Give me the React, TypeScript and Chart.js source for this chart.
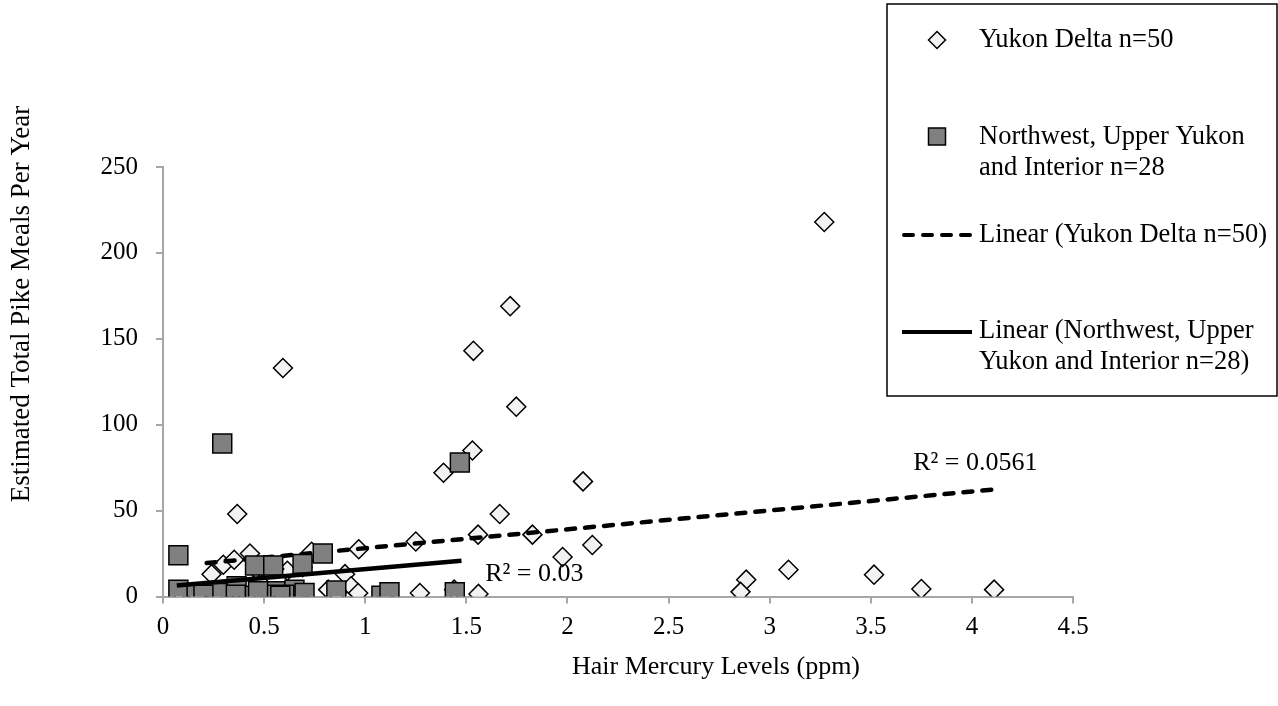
import React, { useEffect, useRef } from 'react';
import { Chart, registerables } from 'chart.js';

Chart.register(...registerables);

// ---- Data ----
const yukonX = [
  3.27, 1.717, 1.535, 0.593, 1.747, 1.53, 1.387, 2.077, 1.665, 0.367,
  1.25, 1.558, 1.827, 2.123, 1.976, 0.968, 1.27, 1.44, 1.56, 2.884,
  2.856, 3.093, 3.516, 3.75, 4.11, 0.24, 0.298, 0.352, 0.43, 0.735,
  0.615, 0.9, 0.817, 0.93, 0.965, 0.47, 0.36, 0.46, 0.55, 0.69,
  0.56, 0.65, 0.45, 0.52, 0.86, 0.17, 0.67, 0.08, 1.1, 0.25,
];
const yukonY = [
  218, 169, 143, 133, 110.5, 85, 72, 67, 48, 48,
  32, 36, 36, 30, 23, 27.5, 2, 4, 1.5, 9.8,
  2.7, 15.6, 12.7, 4.4, 4, 13, 18.5, 21.4, 25, 26,
  15, 13, 4, 6, 2, 9, 4, 16, 16, 17,
  2, 2, 1, 1, 2, 1, 1, 3, 1, 1,
];

const nwX = [
  0.076, 0.293, 1.468, 0.076, 0.166, 0.26, 0.364, 0.455, 0.545, 0.69,
  0.79, 0.455, 0.555, 0.65, 0.67, 0.54, 0.857, 1.08, 1.12, 1.443,
  0.27, 0.36, 0.5, 0.6, 0.47, 0.7, 0.2, 0.58,
];
const nwY = [
  24, 89, 78, 4, 2, 0.5, 6, 18, 18, 19,
  25, 0.5, 3, 4, 0, 0, 3.5, 0.5, 2.5, 2.5,
  2, 1, 1, 1, 3, 2, 1, 0.5,
];

// Trend line end points (as drawn in the reference)
const yukonTrendX = [0.216, 4.11];
const yukonTrendY = [19.5, 62.3];
const nwTrendX = [0.068, 1.476];
const nwTrendY = [6.4, 20.8];

// R² labels and their anchor (data coordinates)
const r2Texts = ['R² = 0.0561', 'R² = 0.03'];
const r2X = [4.017, 1.836];
const r2Y = [77.5, 13];

const xTicks = [0, 0.5, 1, 1.5, 2, 2.5, 3, 3.5, 4, 4.5];
const yTicks = [0, 50, 100, 150, 200, 250];

const seriesNames = ['Yukon Delta n=50', 'Northwest, Upper Yukon and Interior n=28'];
const legendLines = [
  ['Yukon Delta n=50'],
  ['Northwest, Upper Yukon', 'and Interior n=28'],
  ['Linear (Yukon Delta n=50)'],
  ['Linear (Northwest, Upper', 'Yukon and Interior n=28)'],
];
const xTitle = 'Hair Mercury Levels (ppm)';
const yTitle = 'Estimated Total Pike Meals Per Year';

const FONT = '"Liberation Serif", "Times New Roman", serif';
const DIAMOND_FILL = '#f2f2f2';
const SQUARE_FILL = '#808080';
const AXIS_GRAY = '#a6a6a6';

const toPts = (xs: number[], ys: number[]) => xs.map((x, i) => ({ x, y: ys[i] }));

function drawDiamond(ctx: CanvasRenderingContext2D, x: number, y: number, r: number) {
  ctx.beginPath();
  ctx.moveTo(x, y - r);
  ctx.lineTo(x + r, y);
  ctx.lineTo(x, y + r);
  ctx.lineTo(x - r, y);
  ctx.closePath();
  ctx.fillStyle = DIAMOND_FILL;
  ctx.fill();
  ctx.lineWidth = 1.5;
  ctx.strokeStyle = '#000';
  ctx.stroke();
}

const overlayPlugin = {
  id: 'overlay',
  afterDraw(chart: any) {
    const ctx: CanvasRenderingContext2D = chart.ctx;
    const xs = chart.scales.x;
    const ys = chart.scales.y;
    ctx.save();
    ctx.fillStyle = '#000';

    // R² labels
    ctx.font = `26px ${FONT}`;
    ctx.textAlign = 'center';
    ctx.textBaseline = 'middle';
    r2Texts.forEach((t, i) => {
      ctx.fillText(t, xs.getPixelForValue(r2X[i]), ys.getPixelForValue(r2Y[i]));
    });

    // Axis titles
    ctx.font = `26px ${FONT}`;
    ctx.fillText(xTitle, 716, 667);
    ctx.save();
    ctx.font = `27px ${FONT}`;
    ctx.translate(22, 304);
    ctx.rotate(-Math.PI / 2);
    ctx.fillText(yTitle, 0, 0);
    ctx.restore();

    // Legend box
    ctx.lineWidth = 1.5;
    ctx.strokeStyle = '#000';
    ctx.strokeRect(887, 4, 390, 392);

    // Markers
    drawDiamond(ctx, 937, 40, 8.5);
    ctx.beginPath();
    ctx.rect(928.5, 128, 17, 17);
    ctx.fillStyle = SQUARE_FILL;
    ctx.fill();
    ctx.lineWidth = 1.5;
    ctx.strokeStyle = '#000';
    ctx.stroke();

    // Lines
    ctx.lineWidth = 4;
    ctx.lineCap = 'round';
    ctx.setLineDash([9, 10]);
    ctx.beginPath();
    ctx.moveTo(904, 235);
    ctx.lineTo(970, 235);
    ctx.stroke();
    ctx.setLineDash([]);
    ctx.lineCap = 'butt';
    ctx.beginPath();
    ctx.moveTo(902, 332);
    ctx.lineTo(972, 332);
    ctx.stroke();

    // Legend texts
    ctx.fillStyle = '#000';
    ctx.font = `26.5px ${FONT}`;
    ctx.textAlign = 'left';
    ctx.textBaseline = 'middle';
    const rowY = [[40], [137, 168], [235], [331, 362]];
    legendLines.forEach((lines, i) => {
      lines.forEach((l, j) => ctx.fillText(l, 979, rowY[i][j]));
    });
    ctx.restore();
  },
};

export default function App() {
  const ref = useRef<HTMLCanvasElement | null>(null);

  useEffect(() => {
    if (!ref.current) return;
    const chart = new Chart(ref.current, {
      type: 'scatter',
      data: {
        datasets: [
          {
            label: 'Linear (' + seriesNames[1] + ')',
            data: toPts(nwTrendX, nwTrendY),
            showLine: true,
            borderColor: '#000',
            borderWidth: 4.5,
            pointRadius: 0,
            fill: false,
          },
          {
            label: seriesNames[1],
            data: toPts(nwX, nwY),
            pointStyle: 'rect',
            pointRadius: 13.4,
            pointHoverRadius: 13.4,
            backgroundColor: SQUARE_FILL,
            borderColor: '#000',
            borderWidth: 1.5,
          },
          {
            label: 'Linear (' + seriesNames[0] + ')',
            data: toPts(yukonTrendX, yukonTrendY),
            showLine: true,
            borderColor: '#000',
            borderWidth: 4.5,
            borderDash: [9, 10],
            borderCapStyle: 'round',
            pointRadius: 0,
            fill: false,
          },
          {
            label: seriesNames[0],
            data: toPts(yukonX, yukonY),
            pointStyle: 'rectRot',
            pointRadius: 9.5,
            pointHoverRadius: 9.5,
            backgroundColor: DIAMOND_FILL,
            borderColor: '#000',
            borderWidth: 1.5,
          },
        ],
      },
      options: {
        animation: false,
        responsive: false,
        devicePixelRatio: 1,
        layout: { padding: { left: 0, top: 167, right: 205, bottom: 0 } },
        plugins: {
          legend: { display: false },
          tooltip: { enabled: false },
          title: { display: false },
        },
        scales: {
          x: {
            type: 'linear',
            min: 0,
            max: 4.5,
            afterFit: (s: any) => { s.height = 109.5; },
            afterBuildTicks: (s: any) => { s.ticks = xTicks.map((v) => ({ value: v })); },
            ticks: {
              color: '#000',
              font: { family: FONT, size: 25 },
              padding: 9,
              maxRotation: 0,
              callback: (v: any) => String(v),
            },
            grid: { drawOnChartArea: false, drawTicks: true, tickLength: 7, color: AXIS_GRAY, lineWidth: 2 },
            border: { display: true, color: AXIS_GRAY, width: 2 },
          },
          y: {
            type: 'linear',
            min: 0,
            max: 250,
            afterFit: (s: any) => { s.width = 163; },
            afterBuildTicks: (s: any) => { s.ticks = yTicks.map((v) => ({ value: v })); },
            ticks: {
              color: '#000',
              font: { family: FONT, size: 25 },
              padding: 18,
              callback: (v: any) => String(v),
            },
            grid: { drawOnChartArea: false, drawTicks: true, tickLength: 7, color: AXIS_GRAY, lineWidth: 2 },
            border: { display: true, color: AXIS_GRAY, width: 2 },
          },
        },
      },
      plugins: [overlayPlugin],
    } as any);
    return () => chart.destroy();
  }, []);

  return (
    <div style={{ position: 'fixed', left: 0, top: 0, width: 1278, height: 706, background: '#fff' }}>
      <canvas ref={ref} width={1278} height={706} style={{ width: 1278, height: 706, display: 'block' }} />
    </div>
  );
}
